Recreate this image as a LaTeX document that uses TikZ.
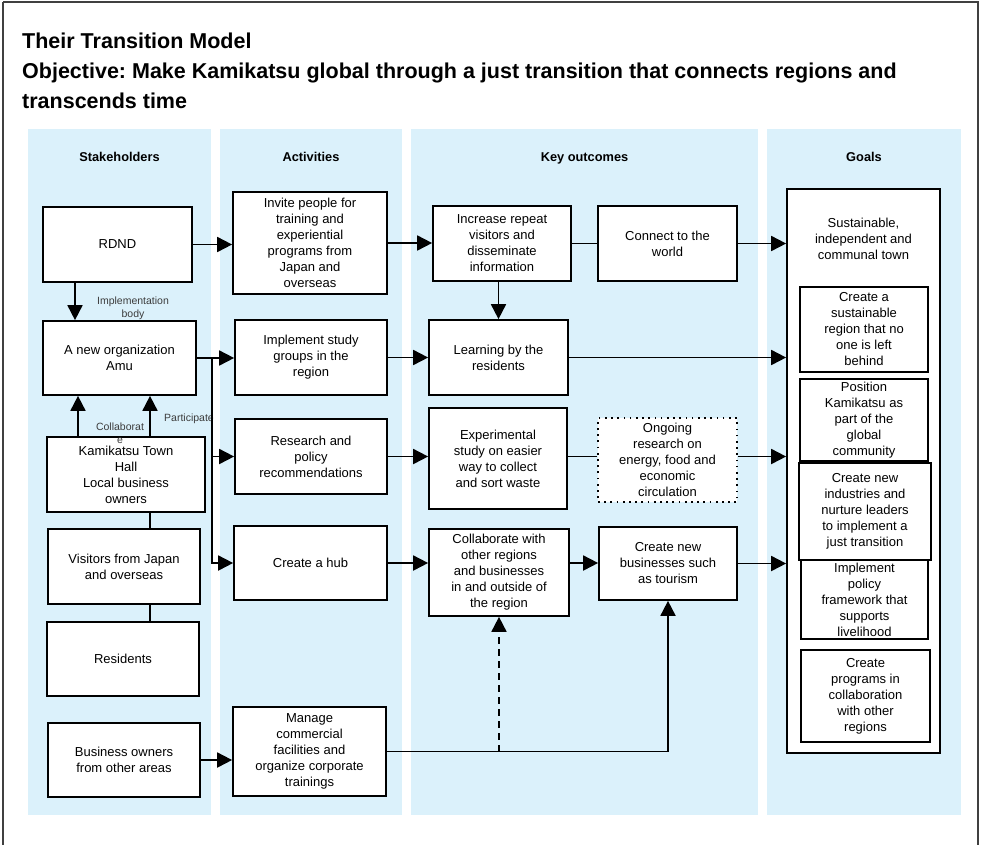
\documentclass[tikz,border=0pt]{standalone}
\usepackage{fontspec}
\setmainfont{Liberation Sans}
\usetikzlibrary{arrows.meta,calc}
\definecolor{panel}{RGB}{219,241,251}
\definecolor{lbl}{RGB}{60,60,60}
\frenchspacing
\tikzset{
  box/.style={draw, line width=1.7pt, fill=white, align=center, inner sep=0pt,
    font=\fontsize{13}{16}\selectfont},
  dotbox/.style={box, dash pattern=on 1.7pt off 4.5pt},
  txt/.style={align=center, inner sep=0pt, font=\fontsize{13}{16}\selectfont},
  head/.style={anchor=base, inner sep=0pt, font=\fontsize{12.8}{15}\selectfont\bfseries},
  small/.style={align=center, inner sep=0pt, text=lbl, font=\fontsize{10.5}{13}\selectfont},
  ttl/.style={anchor=base west, inner sep=0pt, font=\fontsize{21.5}{25}\selectfont\bfseries},
  ln/.style={line width=1.8pt},
  arr/.style={line width=1.8pt, -{Triangle[length=15pt,width=15pt]}},
  dsh/.style={dash pattern=on 7pt off 5pt}
}
\begin{document}
\begin{tikzpicture}[x=1pt,y=-1pt]
\useasboundingbox (0,0) rectangle (982,844);
\fill[white] (0,0) rectangle (982,844);
\draw[line width=2pt, black!75] (3,2) -- (978,2) -- (978,850) (3,850) -- (3,2);
% titles
\node[ttl] (t1) at (22,48) {Their Transition Model};
\node[ttl] (t2) at (22,78) {Objective: Make Kamikatsu global through a just transition that connects regions and};
\node[ttl] (t3) at (22,108) {transcends time};
% panels
\fill[panel] (28,129) rectangle (211,815);
\fill[panel] (220,129) rectangle (402,815);
\fill[panel] (411,129) rectangle (758,815);
\fill[panel] (767,129) rectangle (961,815);
\node[head] (h1) at (119.5,161.5) {Stakeholders};
\node[head] (h2) at (311,161.5) {Activities};
\node[head] (h3) at (584.5,161.5) {Key outcomes};
\node[head] (h4) at (864,161.5) {Goals};
% stakeholders
\node[box, minimum width=149pt, minimum height=75pt] (rdnd) at (117.5,244.5) {RDND};
\node[box, minimum width=153pt, minimum height=74pt] (amu) at (119.5,358) {A new organization\\Amu};
\node[box, minimum width=158pt, minimum height=75pt] (town) at (126,474.5) {Kamikatsu Town\\Hall\\Local business\\owners};
\node[box, minimum width=152pt, minimum height=75pt] (visitors) at (124,566.5) {Visitors from Japan\\and overseas};
\node[box, minimum width=152pt, minimum height=74pt] (residents) at (123,659) {Residents};
\node[box, minimum width=152pt, minimum height=74pt] (business) at (124,760) {Business owners\\from other areas};
% activities
\node[box, minimum width=154pt, minimum height=102pt] (invite) at (310,243) {Invite people for\\training and\\experiential\\programs from\\Japan and\\overseas};
\node[box, minimum width=152pt, minimum height=75pt] (implement) at (311,357.5) {Implement study\\groups in the\\region};
\node[box, minimum width=152pt, minimum height=75pt] (research) at (311,456.5) {Research and\\policy\\recommendations};
\node[box, minimum width=153pt, minimum height=74pt] (hub) at (310.5,563) {Create a hub};
\node[box, minimum width=153pt, minimum height=89pt] (manage) at (309.5,751.5) {Manage\\commercial\\facilities and\\organize corporate\\trainings};
% key outcomes
\node[box, minimum width=138pt, minimum height=75pt] (increase) at (502,243.5) {Increase repeat\\visitors and\\disseminate\\information};
\node[box, minimum width=139pt, minimum height=75pt] (learning) at (498.5,357.5) {Learning by the\\residents};
\node[box, minimum width=138pt, minimum height=101pt] (experimental) at (498,458.5) {Experimental\\study on easier\\way to collect\\and sort waste};
\node[box, minimum width=140pt, minimum height=87pt] (collab) at (499,572.5) {Collaborate with\\other regions\\and businesses\\in and outside of\\the region};
\node[box, minimum width=139pt, minimum height=75pt] (connect) at (667.5,243.5) {Connect to the\\world};
\node[dotbox, minimum width=139pt, minimum height=84pt] (ongoing) at (667.5,460) {Ongoing\\research on\\energy, food and\\economic\\circulation};
\node[box, minimum width=138pt, minimum height=73pt] (createnew) at (668,563.5) {Create new\\businesses such\\as tourism};
% goals
\node[box, minimum width=153pt, minimum height=564pt] (outer) at (863.5,471) {};
\node[txt] (goaltxt) at (863.5,239) {Sustainable,\\independent and\\communal town};
\node[box, minimum width=128pt, minimum height=85pt] (g1) at (864,329.5) {Create a\\sustainable\\region that no\\one is left\\behind};
\node[box, minimum width=128pt, minimum height=82pt] (g2) at (864,420) {Position\\Kamikatsu as\\part of the\\global\\community};
\node[box, minimum width=127pt, minimum height=79pt] (g4) at (864.5,599.5) {Implement\\policy\\framework that\\supports\\livelihood};
\node[box, line width=2pt, minimum width=132pt, minimum height=97pt] (g3) at (865,511.5) {Create new\\industries and\\nurture leaders\\to implement a\\just transition};
\node[box, minimum width=129pt, minimum height=92pt] (g5) at (865.5,696) {Create\\programs in\\collaboration\\with other\\regions};
% helper columns
\coordinate (c75) at (75,0);
\coordinate (c78) at (78,0);
\coordinate (c150) at (150,0);
\coordinate (bus) at (212,0);
% stakeholder connectors
\draw[arr] (rdnd.east) -- (rdnd.east -| invite.west);
\draw[arr] (rdnd.south -| c75) -- (amu.north -| c75);
\node[small] (implbody) at (133,308.5) {Implementation\\body};
\draw[arr] (town.north -| c78) -- (amu.south -| c78);
\draw[arr] (town.north -| c150) -- (amu.south -| c150);
\node[small] (collablbl) at (120,433.5) {Collaborat\\e};
\node[small] (partlbl) at (189,419) {Participate};
\draw[ln] (town.south -| c150) -- (visitors.north -| c150);
\draw[ln] (visitors.south -| c150) -- (residents.north -| c150);
\draw[arr] (amu.east) -- (amu.east -| implement.west);
\draw[arr] (amu.east -| bus) |- (research.west);
\draw[arr] (amu.east -| bus) |- (hub.west);
\draw[arr] (business.east) -- (business.east -| manage.west);
% activities -> outcomes
\draw[arr] (invite.east) -- (invite.east -| increase.west);
\draw[arr] (implement.east) -- (implement.east -| learning.west);
\draw[arr] (research.east) -- (research.east -| experimental.west);
\draw[arr] (hub.east) -- (hub.east -| collab.west);
\draw[arr] (manage.east) -| (createnew.south);
\draw[arr, dsh] (manage.east -| collab.south) -- (collab.south);
% outcomes
\draw[ln] (increase.east) -- (connect.west);
\draw[arr] (increase.south -| learning.north) -- (learning.north);
\draw[ln] (research.east -| experimental.east) -- (research.east -| ongoing.west);
\draw[arr] (hub.east -| collab.east) -- (hub.east -| createnew.west);
% to goals
\draw[arr] (connect.east) -- (connect.east -| outer.west);
\draw[arr] (learning.east) -- (learning.east -| outer.west);
\draw[arr] (research.east -| ongoing.east) -- (research.east -| outer.west);
\draw[arr] (createnew.east) -- (createnew.east -| outer.west);
\end{tikzpicture}
\end{document}
